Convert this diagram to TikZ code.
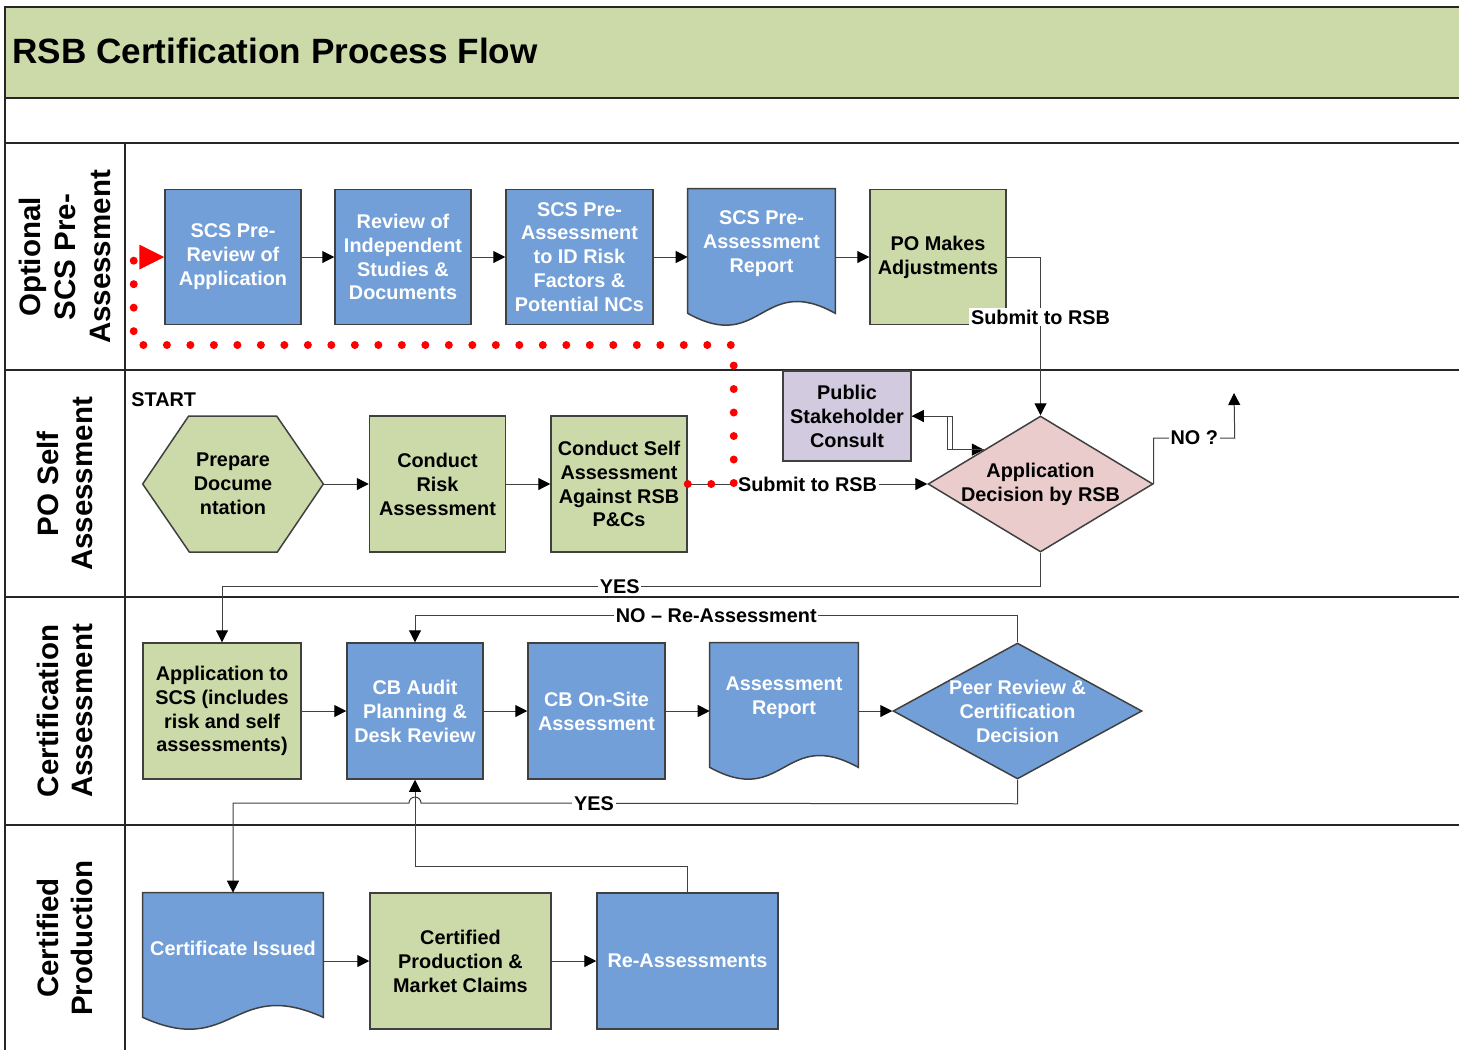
\documentclass[tikz,border=0pt]{standalone}
\usepackage{fontspec}
\setmainfont{Liberation Sans}
\usetikzlibrary{arrows.meta,shapes.geometric}

\definecolor{rsbgreen}{RGB}{204,218,170}
\definecolor{rsbblue}{RGB}{114,159,216}
\definecolor{rsblilac}{RGB}{210,203,224}
\definecolor{rsbpink}{RGB}{234,204,204}
\definecolor{rsbedge}{RGB}{64,64,64}

\pgfdeclarelayer{bg}
\pgfsetlayers{bg,main}

\tikzset{
  txt/.style={font=\fontsize{11.3}{13.6}\selectfont\bfseries, align=center},
  box/.style={txt, draw=rsbedge, line width=0.03cm, inner sep=1pt, minimum width=2.72cm, minimum height=2.72cm},
  bluebox/.style={box, fill=rsbblue, text=white},
  greenbox/.style={box, fill=rsbgreen},
  docbox/.style={txt, inner sep=1pt, minimum height=2.2cm},
  decision/.style={diamond, draw=rsbedge, line width=0.03cm, inner sep=0pt, minimum height=2.72cm},
  flow/.style={draw=rsbedge, line width=0.02cm},
  arr/.style={flow, -{Triangle[length=0.24cm,width=0.24cm,black]}},
  lbl/.style={txt, fill=white, inner sep=1pt},
  lane/.style={font=\fontsize{16.8}{19.8}\selectfont\bfseries, align=center, rotate=90},
  reddots/.style={red, line width=0.16cm, line cap=round, dash pattern=on 0pt off 0.47cm,
    -{Triangle[length=0.5cm,width=0.5cm,line width=0pt]}},
  frame/.style={draw=black!85, line width=0.03cm}
}

\begin{document}
\begin{tikzpicture}[x=0.02cm, y=-0.02cm]
  \useasboundingbox (0,0) rectangle (1459,1049);

  % Title band and swimlanes
  \fill[rsbgreen] (5,7) rectangle (1470,98);
  \draw[frame] (1470,7) -- (5,7) -- (5,1060);
  \foreach \y in {98,143,370,597,825}
    \draw[frame] (5,\y) -- (1470,\y);
  \draw[frame] (125,143) -- (125,1060);
  \node[anchor=west, inner sep=0pt, font=\fontsize{20}{24}\selectfont\bfseries] (title) at (12,51) {RSB Certification Process Flow};

  \node[lane] (lane1) at (65,257) {Optional\\SCS Pre-\\Assessment};
  \node[lane] (lane2) at (65,484) {PO Self\\Assessment};
  \node[lane] (lane3) at (65,711) {Certification\\Assessment};
  \node[lane] (lane4) at (65,938) {Certified\\Production};

  % Optional SCS pre-assessment
  \node[bluebox, minimum height=2.7cm] (a1) at (233,257) {SCS Pre-\\Review of\\Application};
  \node[bluebox, minimum height=2.7cm] (a2) at (403,257) {Review of\\Independent\\Studies \&\\Documents};
  \node[bluebox, minimum height=2.7cm, minimum width=2.94cm] (a3) at (579.5,257) {SCS Pre-\\Assessment\\to ID Risk\\Factors \&\\Potential NCs};
  \node[docbox, text=white, minimum width=2.94cm] (a4) at (761.5,244) {SCS Pre-\\Assessment\\Report};
  \node[greenbox, minimum height=2.7cm] (a5) at (938,257) {PO Makes\\Adjustments};

  % PO self assessment
  \node[txt, anchor=west, inner sep=0pt] (start) at (131,400) {START};
  \node[txt, minimum width=3.6cm, minimum height=2.72cm] (b1) at (233,484) {Prepare\\Docume\\ntation};
  \node[greenbox] (b2) at (437.5,484) {Conduct\\Risk\\Assessment};
  \node[greenbox] (b3) at (619,484) {Conduct Self\\Assessment\\Against RSB\\P\&Cs};
  \node[box, fill=rsblilac, minimum width=2.56cm, minimum height=1.8cm] (pub) at (847,416) {Public\\Stakeholder\\Consult};
  \node[decision, fill=rsbpink, minimum width=4.5cm,
    label={[txt]center:Application\\Decision by RSB}] (d1) at (1040.5,484) {};
  \coordinate (noend) at (1234,393);

  % Certification assessment
  \node[greenbox, minimum width=3.16cm] (c1) at (222,711) {Application to\\SCS (includes\\risk and self\\assessments)};
  \node[bluebox] (c2) at (415,711) {CB Audit\\Planning \&\\Desk Review};
  \node[bluebox, minimum width=2.74cm] (c3) at (596.5,711) {CB On-Site\\Assessment};
  \node[docbox, text=white, minimum width=2.96cm] (c4) at (784,698) {Assessment\\Report};
  \node[decision, fill=rsbblue, minimum width=4.98cm,
    label={[txt, text=white]center:Peer Review \&\\Certification\\Decision}] (d2) at (1017.5,711) {};

  % Certified production
  \node[docbox, text=white, minimum width=3.6cm] (e1) at (233,948) {Certificate Issued};
  \node[greenbox, minimum width=3.62cm] (e2) at (460.5,961) {Certified\\Production \&\\Market Claims};
  \node[bluebox, minimum width=3.62cm] (e3) at (687.5,961) {Re-Assessments};

  % hexagon and document outlines
  \begin{pgfonlayer}{bg}
    \draw[draw=rsbedge, line width=0.03cm, fill=rsbgreen] (b1.west) -- ++(46,-68) -- ++(88,0)
      -- (b1.east) -- ++(-46,68) -- ++(-88,0) -- cycle;
    \foreach \d in {a4,c4,e1}
      \draw[draw=rsbedge, line width=0.03cm, fill=rsbblue] (\d.north west) -- (\d.north east)
        -- ([yshift=-0.28cm]\d.south east)
        .. controls ([yshift=0.54cm]\d.south) and ([yshift=-1.1cm]\d.south) ..
        ([yshift=-0.28cm]\d.south west) -- cycle;
  \end{pgfonlayer}

  % Connectors
  \draw[arr] (a1) -- (a2);
  \draw[arr] (a2) -- (a3);
  \draw[arr] (a3) -- (a3 -| a4.west);
  \draw[arr] (a4.east |- a5) -- (a5);
  \draw[arr] (a5.east) -| (d1.north) node[lbl, pos=0.69] {Submit to RSB};

  \draw[arr] (b1) -- (b2);
  \draw[arr] (b2) -- (b3);
  \draw[arr] (b3) -- (d1) node[lbl, pos=0.5] {Submit to RSB};
  \draw[arr] (pub.east) -- ++(36,0) |- (d1.north west);
  \draw[arr] (d1.north west) -- ++(-31,0) |- (pub.east);
  \draw[arr] (d1.east) -- ++(0,-46) -- node[lbl] {NO ?} ++(81,0) -- (noend);
  \draw[arr] (d1.south) -- ++(0,34) -| (c1.north) node[lbl, pos=0.257] {YES};

  \draw[arr] (c1) -- (c2);
  \draw[arr] (c2) -- (c3);
  \draw[arr] (c3) -- (c3 -| c4.west);
  \draw[arr] (c4.east |- d2) -- (d2);
  \draw[arr] (d2.north) -- ++(0,-27) -| (c2.north) node[lbl, pos=0.25] {NO – Re-Assessment};
  \draw[arr] (d2.south) -- ++(0,24) -- node[lbl, pos=0.71] {YES} (421,803)
    arc[start angle=0, end angle=-180, radius=6] -| (e1.north);

  \draw[arr] (e1.east |- e2) -- (e2);
  \draw[arr] (e2) -- (e3);
  \draw[arr] (e3.north) -- ++(0,-26) -| (c2.south);

  % Optional route back to the pre-assessment
  \draw[reddots] (b3.east) -- ++(46,0) -- ++(0,-139) -- ++(-600,0) |- (a1.west);
\end{tikzpicture}
\end{document}
